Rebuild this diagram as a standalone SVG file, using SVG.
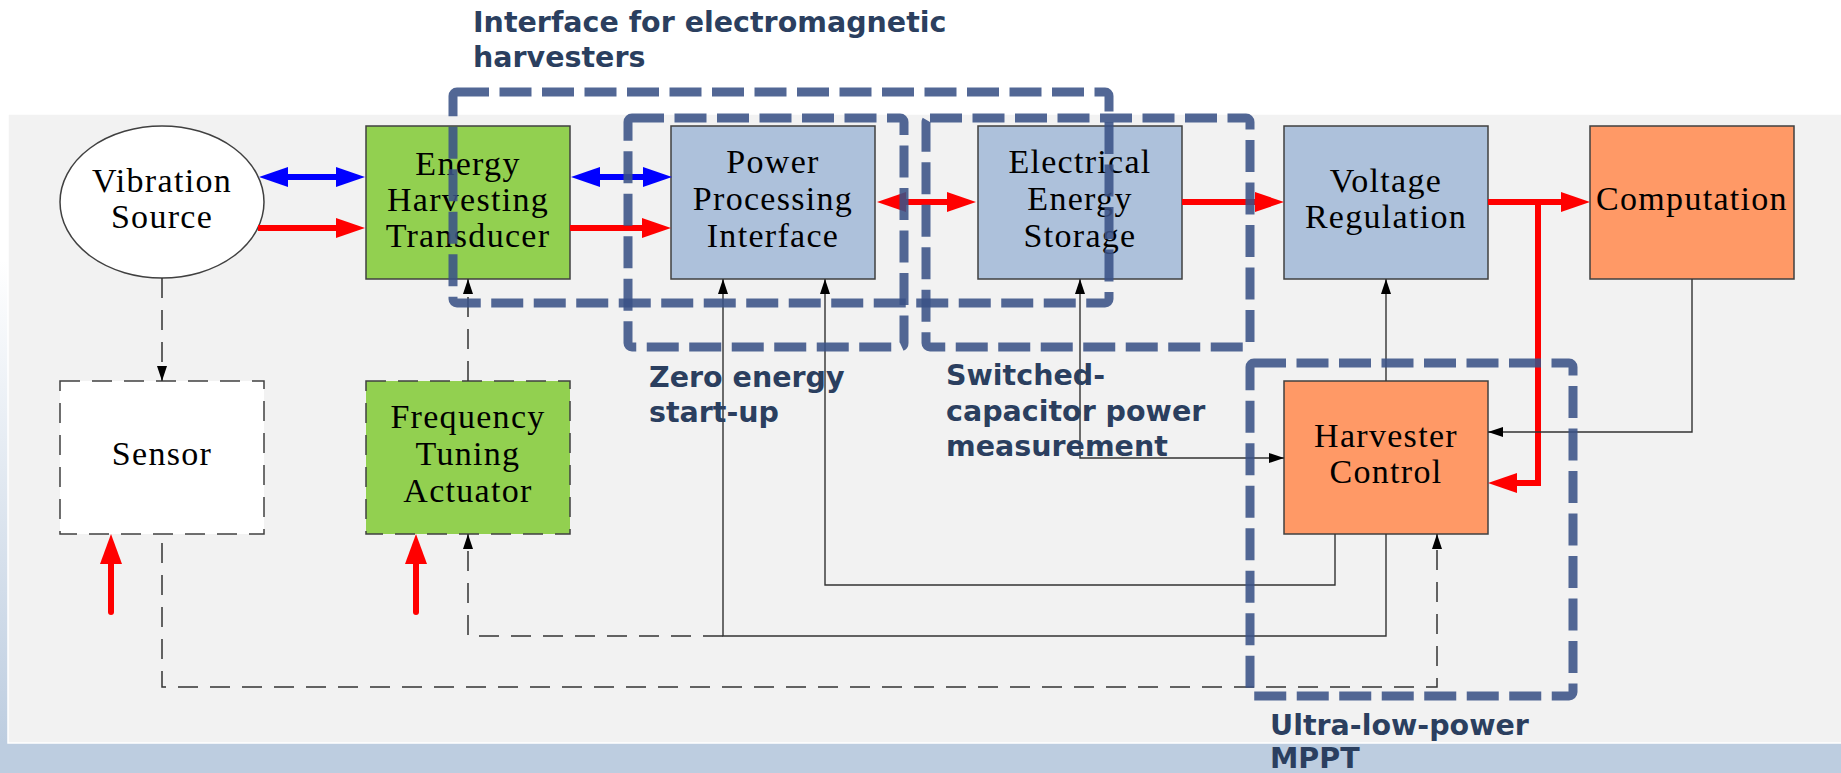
<svg xmlns="http://www.w3.org/2000/svg" width="1841" height="773" viewBox="0 0 1841 773">
<style>
.box{stroke:#404040;stroke-width:1.5}
.dbox{stroke:#404040;stroke-width:1.5;stroke-dasharray:20 12}
.nt{font-family:"Liberation Serif",serif;font-size:34px;letter-spacing:1.3px;fill:#000;text-anchor:middle}
.lbl{font-family:"DejaVu Sans",sans-serif;font-weight:bold;font-size:28.5px;fill:#2b3f5f}
.thin{fill:none;stroke:#333;stroke-width:1.4}
.thind{fill:none;stroke:#333;stroke-width:1.5;stroke-dasharray:20 12}
.red{fill:none;stroke:#ff0000;stroke-width:6}
.blue{fill:none;stroke:#0000ff;stroke-width:6}
.grp{fill:none;stroke:#3a5286;stroke-opacity:0.88;stroke-width:9;stroke-dasharray:32 10.5}
</style>
<defs>
<linearGradient id="lg" x1="0" y1="0" x2="0" y2="1">
<stop offset="0.35" stop-color="#ffffff"/>
<stop offset="1" stop-color="#bdcde0"/>
</linearGradient>
<marker id="ar" markerUnits="userSpaceOnUse" markerWidth="30" markerHeight="20" refX="0" refY="10" orient="auto-start-reverse"><path d="M0,0 L29,10 L0,20 Z" fill="#ff0000"/></marker>
<marker id="ab" markerUnits="userSpaceOnUse" markerWidth="30" markerHeight="20" refX="0" refY="10" orient="auto-start-reverse"><path d="M0,0 L29,10 L0,20 Z" fill="#0000ff"/></marker>
<marker id="aru" markerUnits="userSpaceOnUse" markerWidth="31" markerHeight="22" refX="0" refY="11" orient="auto"><path d="M0,0 L30,11 L0,22 Z" fill="#ff0000"/></marker>
<marker id="ak" markerUnits="userSpaceOnUse" markerWidth="16" markerHeight="10" refX="15" refY="5" orient="auto-start-reverse"><path d="M0,0 L15,5 L0,10 Z" fill="#000"/></marker>
</defs>
<rect x="0" y="0" width="1841" height="773" fill="#ffffff"/>
<rect x="0" y="0" width="9" height="743" fill="url(#lg)"/>
<rect x="0" y="743" width="1841" height="30" fill="#bdcde0"/>
<rect x="8" y="114" width="1840" height="629" fill="#f2f2f2" stroke="#ffffff" stroke-width="1.5"/>

<g id="vibration-source"><ellipse cx="162" cy="202" rx="102" ry="76" fill="#ffffff" stroke="#404040" stroke-width="1.5"/>
<text class="nt" x="162" y="192">Vibration</text><text class="nt" x="162" y="228">Source</text></g>
<g id="energy-harvesting-transducer"><rect class="box" x="366" y="126" width="204" height="153" fill="#92d050"/>
<text class="nt" x="468" y="175">Energy</text><text class="nt" x="468" y="211">Harvesting</text><text class="nt" x="468" y="247">Transducer</text></g>
<g id="power-processing-interface"><rect class="box" x="671" y="126" width="204" height="153" fill="#adc1db"/>
<text class="nt" x="773" y="173">Power</text><text class="nt" x="773" y="210">Processing</text><text class="nt" x="773" y="247">Interface</text></g>
<g id="electrical-energy-storage"><rect class="box" x="978" y="126" width="204" height="153" fill="#adc1db"/>
<text class="nt" x="1080" y="173">Electrical</text><text class="nt" x="1080" y="210">Energy</text><text class="nt" x="1080" y="247">Storage</text></g>
<g id="voltage-regulation"><rect class="box" x="1284" y="126" width="204" height="153" fill="#adc1db"/>
<text class="nt" x="1386" y="192">Voltage</text><text class="nt" x="1386" y="228">Regulation</text></g>
<g id="computation"><rect class="box" x="1590" y="126" width="204" height="153" fill="#ff9966"/>
<text class="nt" x="1692" y="210">Computation</text></g>
<g id="sensor"><rect class="dbox" x="60" y="381" width="204" height="153" fill="#ffffff"/>
<text class="nt" x="162" y="465">Sensor</text></g>
<g id="frequency-tuning-actuator"><rect class="dbox" x="366" y="381" width="204" height="153" fill="#92d050"/>
<text class="nt" x="468" y="428">Frequency</text><text class="nt" x="468" y="465">Tuning</text><text class="nt" x="468" y="502">Actuator</text></g>
<g id="harvester-control"><rect class="box" x="1284" y="381" width="204" height="153" fill="#ff9966"/>
<text class="nt" x="1386" y="447">Harvester</text><text class="nt" x="1386" y="483">Control</text></g>

<g id="connectors">
<path class="blue" d="M288,177 H336" marker-start="url(#ab)" marker-end="url(#ab)"/>
<path class="red" d="M258,228 H336" marker-end="url(#ar)"/>
<path class="blue" d="M600,177 H643" marker-start="url(#ab)" marker-end="url(#ab)"/>
<path class="red" d="M570,228 H642" marker-end="url(#ar)"/>
<path class="red" d="M906,202 H947" marker-start="url(#ar)" marker-end="url(#ar)"/>
<path class="red" d="M1182,202 H1255" marker-end="url(#ar)"/>
<path class="red" d="M1488,202 H1561" marker-end="url(#ar)"/>
<path class="red" d="M1538,202 V483 H1517" marker-end="url(#ar)"/>
<path class="red" d="M111,612 V564" stroke-linecap="round" marker-end="url(#aru)"/>
<path class="red" d="M416,612 V564" stroke-linecap="round" marker-end="url(#aru)"/>
<path class="thind" d="M162,278 V381" marker-end="url(#ak)"/>
<path class="thind" d="M468,381 V279" marker-end="url(#ak)"/>
<path class="thin" d="M1335,534 V585 H825 V279" marker-end="url(#ak)"/>
<path class="thin" d="M1386,534 V636 H723 V279" marker-end="url(#ak)"/>
<path class="thind" d="M723,636 H468 V534" marker-end="url(#ak)"/>
<path class="thind" d="M162,543 V687 H1437 V534" marker-end="url(#ak)"/>
<path class="thin" d="M1692,279 V432 H1488" marker-end="url(#ak)"/>
<path class="thin" d="M1386,381 V279" marker-end="url(#ak)"/>
<path class="thin" d="M1080,279 V458 H1284" marker-start="url(#ak)" marker-end="url(#ak)"/>
</g>

<g id="groups">
<rect class="grp" x="453" y="92" width="656" height="211" rx="4"/>
<rect class="grp" x="628" y="118" width="276" height="229" rx="4"/>
<rect class="grp" x="926" y="118" width="324" height="229" rx="4"/>
<rect class="grp" x="1250" y="363" width="323" height="333" rx="4"/>
</g>

<g id="labels">
<text class="lbl" x="473" y="32">Interface for electromagnetic</text>
<text class="lbl" x="473" y="67">harvesters</text>
<text class="lbl" x="649" y="387">Zero energy</text>
<text class="lbl" x="649" y="422">start-up</text>
<text class="lbl" x="946" y="385">Switched-</text>
<text class="lbl" x="946" y="421">capacitor power</text>
<text class="lbl" x="946" y="456">measurement</text>
<text class="lbl" x="1270" y="735">Ultra-low-power</text>
<text class="lbl" x="1270" y="768">MPPT</text>
</g>
</svg>
